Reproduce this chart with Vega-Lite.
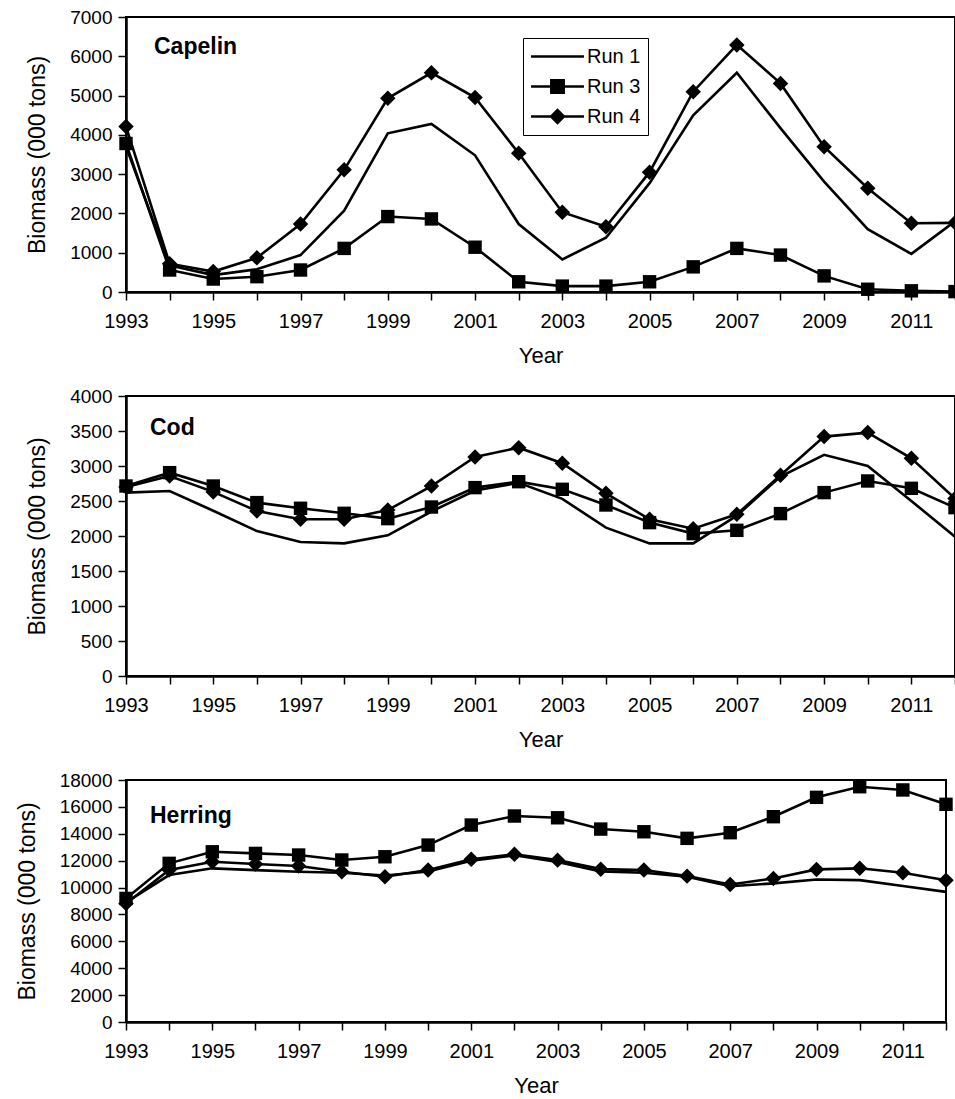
{
  "$schema": "https://vega.github.io/schema/vega-lite/v6.json",
  "padding": {"left": 15, "top": 7, "right": 0, "bottom": 0},
  "spacing": 104,
  "bounds": "flush",
  "data": {"values": [
    {"species":"Capelin","year":1993,"Run 1":3700,"Run 3":3780,"Run 4":4210},
    {"species":"Capelin","year":1994,"Run 1":680,"Run 3":560,"Run 4":720},
    {"species":"Capelin","year":1995,"Run 1":430,"Run 3":330,"Run 4":520},
    {"species":"Capelin","year":1996,"Run 1":580,"Run 3":390,"Run 4":870},
    {"species":"Capelin","year":1997,"Run 1":940,"Run 3":560,"Run 4":1730},
    {"species":"Capelin","year":1998,"Run 1":2070,"Run 3":1110,"Run 4":3110},
    {"species":"Capelin","year":1999,"Run 1":4040,"Run 3":1920,"Run 4":4930},
    {"species":"Capelin","year":2000,"Run 1":4280,"Run 3":1860,"Run 4":5580},
    {"species":"Capelin","year":2001,"Run 1":3480,"Run 3":1140,"Run 4":4950},
    {"species":"Capelin","year":2002,"Run 1":1730,"Run 3":260,"Run 4":3530},
    {"species":"Capelin","year":2003,"Run 1":830,"Run 3":150,"Run 4":2030},
    {"species":"Capelin","year":2004,"Run 1":1380,"Run 3":150,"Run 4":1660},
    {"species":"Capelin","year":2005,"Run 1":2770,"Run 3":260,"Run 4":3050},
    {"species":"Capelin","year":2006,"Run 1":4500,"Run 3":640,"Run 4":5100},
    {"species":"Capelin","year":2007,"Run 1":5580,"Run 3":1110,"Run 4":6290},
    {"species":"Capelin","year":2008,"Run 1":4170,"Run 3":940,"Run 4":5310},
    {"species":"Capelin","year":2009,"Run 1":2810,"Run 3":410,"Run 4":3700},
    {"species":"Capelin","year":2010,"Run 1":1600,"Run 3":70,"Run 4":2640},
    {"species":"Capelin","year":2011,"Run 1":970,"Run 3":30,"Run 4":1750},
    {"species":"Capelin","year":2012,"Run 1":1800,"Run 3":10,"Run 4":1760},
    {"species":"Cod","year":1993,"Run 1":2620,"Run 3":2714,"Run 4":2700},
    {"species":"Cod","year":1994,"Run 1":2643,"Run 3":2905,"Run 4":2857},
    {"species":"Cod","year":1995,"Run 1":2360,"Run 3":2714,"Run 4":2630},
    {"species":"Cod","year":1996,"Run 1":2070,"Run 3":2477,"Run 4":2357},
    {"species":"Cod","year":1997,"Run 1":1915,"Run 3":2396,"Run 4":2239},
    {"species":"Cod","year":1998,"Run 1":1895,"Run 3":2324,"Run 4":2239},
    {"species":"Cod","year":1999,"Run 1":2010,"Run 3":2248,"Run 4":2371},
    {"species":"Cod","year":2000,"Run 1":2350,"Run 3":2414,"Run 4":2714},
    {"species":"Cod","year":2001,"Run 1":2650,"Run 3":2691,"Run 4":3129},
    {"species":"Cod","year":2002,"Run 1":2760,"Run 3":2776,"Run 4":3262},
    {"species":"Cod","year":2003,"Run 1":2530,"Run 3":2667,"Run 4":3039},
    {"species":"Cod","year":2004,"Run 1":2120,"Run 3":2443,"Run 4":2610},
    {"species":"Cod","year":2005,"Run 1":1895,"Run 3":2191,"Run 4":2239},
    {"species":"Cod","year":2006,"Run 1":1895,"Run 3":2034,"Run 4":2105},
    {"species":"Cod","year":2007,"Run 1":2290,"Run 3":2081,"Run 4":2310},
    {"species":"Cod","year":2008,"Run 1":2850,"Run 3":2320,"Run 4":2867},
    {"species":"Cod","year":2009,"Run 1":3160,"Run 3":2620,"Run 4":3420},
    {"species":"Cod","year":2010,"Run 1":3000,"Run 3":2786,"Run 4":3477},
    {"species":"Cod","year":2011,"Run 1":2500,"Run 3":2681,"Run 4":3110},
    {"species":"Cod","year":2012,"Run 1":1990,"Run 3":2405,"Run 4":2534},
    {"species":"Herring","year":1993,"Run 1":8900,"Run 3":9190,"Run 4":8820},
    {"species":"Herring","year":1994,"Run 1":10930,"Run 3":11800,"Run 4":11300},
    {"species":"Herring","year":1995,"Run 1":11430,"Run 3":12660,"Run 4":11920},
    {"species":"Herring","year":1996,"Run 1":11300,"Run 3":12540,"Run 4":11750},
    {"species":"Herring","year":1997,"Run 1":11180,"Run 3":12420,"Run 4":11600},
    {"species":"Herring","year":1998,"Run 1":11100,"Run 3":12050,"Run 4":11170},
    {"species":"Herring","year":1999,"Run 1":10900,"Run 3":12290,"Run 4":10800},
    {"species":"Herring","year":2000,"Run 1":11200,"Run 3":13160,"Run 4":11300},
    {"species":"Herring","year":2001,"Run 1":12000,"Run 3":14650,"Run 4":12100},
    {"species":"Herring","year":2002,"Run 1":12400,"Run 3":15320,"Run 4":12470},
    {"species":"Herring","year":2003,"Run 1":11900,"Run 3":15190,"Run 4":12040},
    {"species":"Herring","year":2004,"Run 1":11200,"Run 3":14350,"Run 4":11370},
    {"species":"Herring","year":2005,"Run 1":11100,"Run 3":14150,"Run 4":11300},
    {"species":"Herring","year":2006,"Run 1":10800,"Run 3":13660,"Run 4":10850},
    {"species":"Herring","year":2007,"Run 1":10100,"Run 3":14080,"Run 4":10230},
    {"species":"Herring","year":2008,"Run 1":10310,"Run 3":15270,"Run 4":10680},
    {"species":"Herring","year":2009,"Run 1":10600,"Run 3":16710,"Run 4":11350},
    {"species":"Herring","year":2010,"Run 1":10550,"Run 3":17500,"Run 4":11430},
    {"species":"Herring","year":2011,"Run 1":10110,"Run 3":17260,"Run 4":11100},
    {"species":"Herring","year":2012,"Run 1":9680,"Run 3":16190,"Run 4":10550}
  ]},
  "transform": [{"fold": ["Run 1", "Run 3", "Run 4"], "as": ["run", "biomass"]}],
  "vconcat": [
    {
      "width": 829, "height": 275,
      "title": {"text": "Capelin", "dx": 28, "offset": -51},
      "transform": [{"filter": "datum.species == 'Capelin'"}],
      "encoding": {
        "x": {"field": "year", "type": "quantitative", "scale": {"domain": [1993, 2012], "nice": false, "zero": false},
              "axis": {"title": "Year", "values": [1993,1994,1995,1996,1997,1998,1999,2000,2001,2002,2003,2004,2005,2006,2007,2008,2009,2010,2011,2012], "format": "d", "labelExpr": "(datum.value - 1993) % 2 == 0 ? datum.label : ''"}},
        "y": {"field": "biomass", "type": "quantitative", "scale": {"domain": [0, 7000], "nice": false},
              "axis": {"title": "Biomass (000 tons)", "values": [0,1000,2000,3000,4000,5000,6000,7000], "format": "d"}}
      },
      "layer": [
        {"mark": {"type": "line", "color": "black", "strokeWidth": 2.6}, "encoding": {"detail": {"field": "run"}}},
        {"transform": [{"filter": "datum.run == 'Run 3'"}], "mark": {"type": "point", "shape": "square", "filled": true, "color": "black", "size": 180, "opacity": 1}},
        {"transform": [{"filter": "datum.run == 'Run 4'"}], "mark": {"type": "point", "shape": "diamond", "filled": true, "color": "black", "size": 240, "opacity": 1}},
        {"transform": [{"filter": "datum.run == 'none'"}], "mark": {"type": "point", "filled": true, "color": "black", "opacity": 1},
         "encoding": {"shape": {"field": "run", "type": "nominal",
           "scale": {"domain": ["Run 1", "Run 3", "Run 4"], "range": [
             "M-2.52,-0.11H2.52V0.11H-2.52Z",
             "M-2.52,-0.11H2.52V0.11H-2.52ZM-0.71,-0.71H0.71V0.71H-0.71Z",
             "M-2.52,-0.11H2.52V0.11H-2.52ZM0,-0.78L0.78,0L0,0.78L-0.78,0Z"]},
           "legend": {"title": null, "orient": "none", "legendX": 397, "legendY": 21, "strokeColor": "black", "fillColor": "white", "padding": 7,
                      "symbolSize": 441, "symbolOffset": 16, "symbolFillColor": "black", "symbolOpacity": 1,
                      "labelFontSize": 20, "labelFont": "Liberation Sans", "labelColor": "black", "labelOffset": 18, "rowPadding": 8}}}}
      ]
    },
    {
      "width": 829, "height": 280,
      "title": {"text": "Cod", "dx": 24, "offset": -53},
      "transform": [{"filter": "datum.species == 'Cod'"}],
      "encoding": {
        "x": {"field": "year", "type": "quantitative", "scale": {"domain": [1993, 2012], "nice": false, "zero": false},
              "axis": {"title": "Year", "values": [1993,1994,1995,1996,1997,1998,1999,2000,2001,2002,2003,2004,2005,2006,2007,2008,2009,2010,2011,2012], "format": "d", "labelExpr": "(datum.value - 1993) % 2 == 0 ? datum.label : ''"}},
        "y": {"field": "biomass", "type": "quantitative", "scale": {"domain": [0, 4000], "nice": false},
              "axis": {"title": "Biomass (000 tons)", "values": [0,500,1000,1500,2000,2500,3000,3500,4000], "format": "d"}}
      },
      "layer": [
        {"mark": {"type": "line", "color": "black", "strokeWidth": 2.6}, "encoding": {"detail": {"field": "run"}}},
        {"transform": [{"filter": "datum.run == 'Run 3'"}], "mark": {"type": "point", "shape": "square", "filled": true, "color": "black", "size": 180, "opacity": 1}},
        {"transform": [{"filter": "datum.run == 'Run 4'"}], "mark": {"type": "point", "shape": "diamond", "filled": true, "color": "black", "size": 240, "opacity": 1}}
      ]
    },
    {
      "width": 820, "height": 242,
      "title": {"text": "Herring", "dx": 24, "offset": -57},
      "transform": [{"filter": "datum.species == 'Herring'"}],
      "encoding": {
        "x": {"field": "year", "type": "quantitative", "scale": {"domain": [1993, 2012], "nice": false, "zero": false},
              "axis": {"title": "Year", "values": [1993,1994,1995,1996,1997,1998,1999,2000,2001,2002,2003,2004,2005,2006,2007,2008,2009,2010,2011,2012], "format": "d", "labelExpr": "(datum.value - 1993) % 2 == 0 ? datum.label : ''"}},
        "y": {"field": "biomass", "type": "quantitative", "scale": {"domain": [0, 18000], "nice": false},
              "axis": {"title": "Biomass (000 tons)", "values": [0,2000,4000,6000,8000,10000,12000,14000,16000,18000], "format": "d"}}
      },
      "layer": [
        {"mark": {"type": "line", "color": "black", "strokeWidth": 2.6}, "encoding": {"detail": {"field": "run"}}},
        {"transform": [{"filter": "datum.run == 'Run 3'"}], "mark": {"type": "point", "shape": "square", "filled": true, "color": "black", "size": 180, "opacity": 1}},
        {"transform": [{"filter": "datum.run == 'Run 4'"}], "mark": {"type": "point", "shape": "diamond", "filled": true, "color": "black", "size": 240, "opacity": 1}}
      ]
    }
  ],
  "config": {
    "font": "Liberation Sans",
    "background": "white",
    "view": {"stroke": "black", "strokeWidth": 2},
    "title": {"anchor": "start", "frame": "group", "fontSize": 23, "fontWeight": "bold", "color": "black", "baseline": "top", "font": "Liberation Sans"},
    "axis": {"domainColor": "black", "domainWidth": 2.5, "tickColor": "black", "tickWidth": 1.5, "tickSize": 8, "labelColor": "black", "titleColor": "black",
             "labelFont": "Liberation Sans", "titleFont": "Liberation Sans", "titleFontWeight": "normal", "grid": false, "labelFlush": false, "labelOverlap": false},
    "axisX": {"labelFontSize": 20, "titleFontSize": 22, "labelPadding": 11, "titlePadding": 14},
    "axisY": {"labelFontSize": 19, "titleFontSize": 23, "labelPadding": 6, "titlePadding": 20}
  }
}
